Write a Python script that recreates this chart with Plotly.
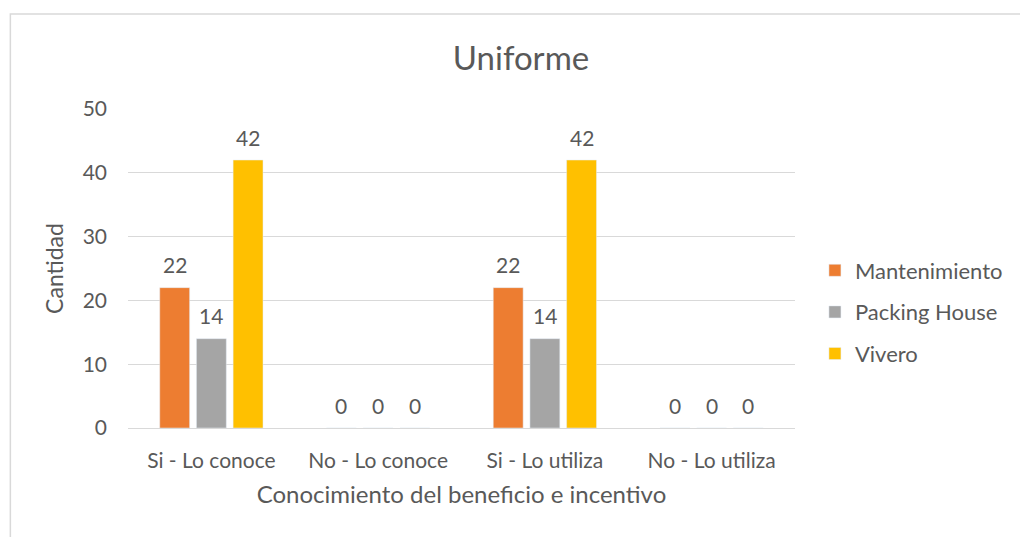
import plotly.graph_objects as go

categories = ["Si - Lo conoce", "No - Lo conoce", "Si - Lo utiliza", "No - Lo utiliza"]
mantenimiento = [22, 0, 22, 0]
packing_house = [14, 0, 14, 0]
vivero = [42, 0, 42, 0]

series = [
    ("Mantenimiento", mantenimiento, "#ED7D31"),
    ("Packing House", packing_house, "#A5A5A5"),
    ("Vivero", vivero, "#FFC000"),
]

FONT = "Lato, 'Open Sans', sans-serif"
TXT = "#595959"

L, R, T, B = 128, 223, 109, 109
pw = 1020 - L - R
ph = 537 - T - B
slot_px = 36.7

fig = go.Figure()
for i, (name, vals, col) in enumerate(series):
    fig.add_trace(go.Bar(
        x=categories, y=vals, name=name, marker_color=col,
        legendgroup=name,
    ))
    for cat, v in zip(categories, vals):
        fig.add_annotation(
            x=cat, y=v, text=str(v), showarrow=False,
            xref="x", yref="y", yanchor="middle",
            xshift=(i - 1) * slot_px, yshift=23,
            font=dict(size=21, color=TXT, family=FONT),
        )

fig.update_layout(
    width=1020, height=537,
    margin=dict(l=L, r=R, t=T, b=B),
    paper_bgcolor="white", plot_bgcolor="white",
    barmode="group", bargap=0.34, bargroupgap=0.185,
    font=dict(family=FONT, color=TXT),
    title=dict(text="Uniforme", x=521/1020, xanchor="center",
               y=1-58/537, yanchor="middle",
               font=dict(size=33, color=TXT, family=FONT)),
    xaxis=dict(title=dict(text="Conocimiento del beneficio e incentivo",
                          font=dict(size=24, color=TXT), standoff=14),
               tickfont=dict(size=21, color=TXT), showline=True,
               linecolor="#D9D9D9", linewidth=1, ticks="", showgrid=False,
               ticklabelstandoff=14),
    yaxis=dict(title=dict(text="Cantidad", font=dict(size=23, color=TXT), standoff=12),
               range=[0, 50], dtick=10, tickfont=dict(size=21, color=TXT),
               gridcolor="#D9D9D9", gridwidth=1, zeroline=False, showline=False,
               ticks="", ticklen=0, ticklabelstandoff=20),
    legend=dict(x=(817-128)/pw, xanchor="left", y=(428-312)/ph, yanchor="middle",
                font=dict(size=22, color=TXT, family=FONT), tracegroupgap=10,
                itemwidth=30, bgcolor="rgba(0,0,0,0)"),
    showlegend=True,
)

fig.add_shape(type="rect", xref="paper", yref="paper",
              x0=(10-128)/pw, x1=(1030-128)/pw, y0=(428-545)/ph, y1=(428-14)/ph,
              line=dict(color="#D9D9D9", width=1.5), fillcolor="rgba(0,0,0,0)",
              layer="below")

fig.write_html("out.html")
